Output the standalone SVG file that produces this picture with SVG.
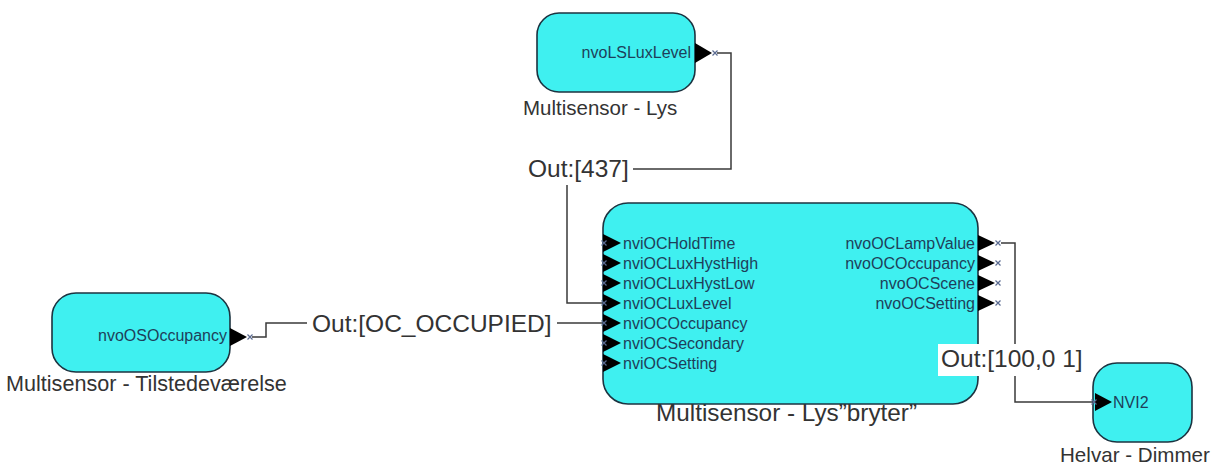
<svg xmlns="http://www.w3.org/2000/svg" width="1222" height="466" viewBox="0 0 1222 466">
  <style>
    .box { fill: #3ff0f0; stroke: #1c3340; stroke-width: 1.6; }
    .port { font-family: "Liberation Sans", Arial, sans-serif; font-size: 16px; fill: #1e3f5a; }
    .title { font-family: "Liberation Sans", Arial, sans-serif; fill: #333333; }
    .out { font-family: "Liberation Sans", Arial, sans-serif; font-size: 24.5px; fill: #333333; }
    .wire { fill: none; stroke: #3a3a3a; stroke-width: 1.5; }
    .tri { fill: #000000; }
    .xm { stroke: #5a6a90; stroke-width: 1.2; fill: none; }
  </style>
  <defs>
    <!-- small cross drawn at each port end -->
    <g id="xmark"><path class="xm" d="M-2.5,-2.5 L2.5,2.5 M-2.5,2.5 L2.5,-2.5"/></g>
  </defs>

  <rect width="1222" height="466" fill="#ffffff"/>

  <!-- connectors -->
  <g id="connectors">
    <path class="wire" d="M717,53 H731 V169 H633"/>
    <path class="wire" d="M567,185 V303 H603"/>
    <path class="wire" d="M252,337 H266 V323 H307"/>
    <path class="wire" d="M557,323 H603"/>
    <path class="wire" d="M1001,243 H1015 V402 H1093"/>
    <text class="out" x="528" y="177">Out:[437]</text>
    <text class="out" x="312" y="332">Out:[OC_OCCUPIED]</text>
  </g>

  <!-- Multisensor - Lys -->
  <g id="node-lys">
    <rect class="box" x="537" y="13" width="158" height="79" rx="22" ry="22"/>
    <text class="port" x="691" y="58" text-anchor="end">nvoLSLuxLevel</text>
    <polygon class="tri" points="695,43 712,53 695,63"/>
    <use href="#xmark" x="715" y="53"/>
    <text class="title" x="523" y="115" font-size="20.5px">Multisensor - Lys</text>
  </g>

  <!-- Multisensor - Tilstedeværelse -->
  <g id="node-tilstede">
    <rect class="box" x="52" y="293" width="178" height="79" rx="24" ry="24"/>
    <text class="port" x="227" y="341" text-anchor="end">nvoOSOccupancy</text>
    <polygon class="tri" points="230,328 247,337 230,346"/>
    <use href="#xmark" x="250" y="337"/>
    <text class="title" x="6" y="391" font-size="21.6px">Multisensor - Tilstedeværelse</text>
  </g>

  <!-- Multisensor - Lys"bryter" -->
  <g id="node-bryter">
    <rect class="box" x="603" y="203" width="375" height="201" rx="25" ry="25"/>
    <g id="inputs">
      <polygon class="tri" points="603,234 621,243 603,252"/>
      <polygon class="tri" points="603,254 621,263 603,272"/>
      <polygon class="tri" points="603,274 621,283 603,292"/>
      <polygon class="tri" points="603,294 621,303 603,312"/>
      <polygon class="tri" points="603,314 621,323 603,332"/>
      <polygon class="tri" points="603,334 621,343 603,352"/>
      <polygon class="tri" points="603,354 621,363 603,372"/>
      <use href="#xmark" x="604" y="243"/>
      <use href="#xmark" x="604" y="263"/>
      <use href="#xmark" x="604" y="283"/>
      <use href="#xmark" x="604" y="303"/>
      <use href="#xmark" x="604" y="323"/>
      <use href="#xmark" x="604" y="343"/>
      <use href="#xmark" x="604" y="363"/>
      <text class="port" x="623" y="249">nviOCHoldTime</text>
      <text class="port" x="623" y="269">nviOCLuxHystHigh</text>
      <text class="port" x="623" y="289">nviOCLuxHystLow</text>
      <text class="port" x="623" y="309">nviOCLuxLevel</text>
      <text class="port" x="623" y="329">nviOCOccupancy</text>
      <text class="port" x="623" y="349">nviOCSecondary</text>
      <text class="port" x="623" y="369">nviOCSetting</text>
    </g>
    <g id="outputs">
      <polygon class="tri" points="978,235 995,243 978,251"/>
      <polygon class="tri" points="978,255 995,263 978,271"/>
      <polygon class="tri" points="978,275 995,283 978,291"/>
      <polygon class="tri" points="978,295 995,303 978,311"/>
      <use href="#xmark" x="998" y="243"/>
      <use href="#xmark" x="998" y="263"/>
      <use href="#xmark" x="998" y="283"/>
      <use href="#xmark" x="998" y="303"/>
      <text class="port" x="975" y="249" text-anchor="end">nvoOCLampValue</text>
      <text class="port" x="975" y="269" text-anchor="end">nvoOCOccupancy</text>
      <text class="port" x="975" y="289" text-anchor="end">nvoOCScene</text>
      <text class="port" x="975" y="309" text-anchor="end">nvoOCSetting</text>
    </g>
    <text class="title" x="656" y="421" font-size="24.3px">Multisensor - Lys”bryter”</text>
  </g>

  <!-- Helvar - Dimmer -->
  <g id="node-helvar">
    <rect class="box" x="1093" y="363" width="99" height="79" rx="24" ry="24"/>
    <polygon class="tri" points="1095,393 1112,402 1095,411"/>
    <use href="#xmark" x="1094" y="402"/>
    <text class="port" x="1113" y="408">NVI2</text>
    <text class="title" x="1060" y="462" font-size="20.6px">Helvar - Dimmer</text>
  </g>

  <!-- label of the dimmer link, on a white plate over the node edge -->
  <g id="connector-label">
    <rect x="938" y="344" width="150" height="32" fill="#ffffff"/>
    <text class="out" x="941" y="367">Out:[100,0 1]</text>
  </g>
</svg>
